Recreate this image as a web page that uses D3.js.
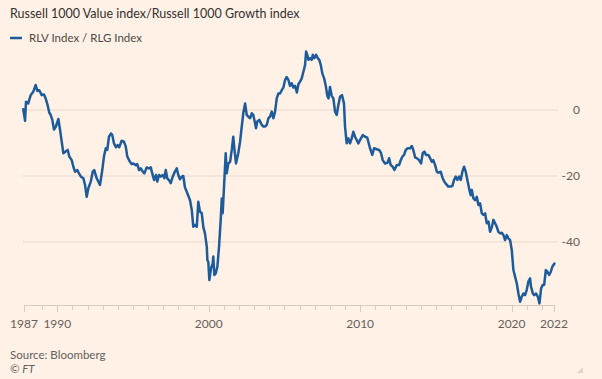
<!DOCTYPE html>
<html><head><meta charset="utf-8">
<script src="https://cdn.jsdelivr.net/npm/d3@7"></script>
<style>
html,body{margin:0;padding:0;background:#fff1e5;}
svg{display:block;font-family:"Lato","Noto Sans",sans-serif;}
</style></head>
<body>
<svg id="chart" width="602" height="379"></svg>
<script>
const title = "Russell 1000 Value index/Russell 1000 Growth index";
const seriesName = "RLV Index / RLG Index";
const source = "Source: Bloomberg";
const credit = "© FT";
const yTicks = [0, -20, -40];
const xMajorTicks = [1990, 2000, 2010, 2020];
const xLabelStart = "1987", xLabelEnd = "2022";
const dates = [1987.75,1987.87,1987.93,1988.08,1988.24,1988.41,1988.57,1988.68,1988.81,1988.97,1989.12,1989.23,1989.34,1989.47,1989.56,1989.67,1989.78,1989.91,1990.07,1990.18,1990.29,1990.40,1990.55,1990.69,1990.79,1990.95,1991.06,1991.17,1991.32,1991.43,1991.56,1991.72,1991.83,1991.94,1992.05,1992.21,1992.34,1992.44,1992.60,1992.82,1992.97,1993.08,1993.20,1993.30,1993.41,1993.55,1993.63,1993.74,1993.88,1993.99,1994.09,1994.25,1994.40,1994.52,1994.62,1994.80,1994.91,1995.02,1995.18,1995.28,1995.40,1995.51,1995.64,1995.75,1995.90,1996.04,1996.17,1996.27,1996.39,1996.52,1996.60,1996.72,1996.83,1996.96,1997.07,1997.16,1997.26,1997.40,1997.49,1997.62,1997.73,1997.89,1997.99,1998.10,1998.22,1998.32,1998.43,1998.55,1998.65,1998.76,1998.88,1998.98,1999.09,1999.21,1999.31,1999.42,1999.54,1999.64,1999.75,1999.87,1999.91,1999.97,2000.04,2000.15,2000.26,2000.30,2000.37,2000.46,2000.57,2000.68,2000.79,2000.86,2000.92,2001.01,2001.12,2001.19,2001.29,2001.41,2001.52,2001.62,2001.69,2001.80,2001.95,2002.07,2002.18,2002.28,2002.40,2002.51,2002.61,2002.73,2002.84,2002.94,2003.06,2003.12,2003.21,2003.34,2003.50,2003.61,2003.72,2003.83,2003.94,2004.05,2004.16,2004.27,2004.38,2004.49,2004.60,2004.71,2004.82,2004.93,2005.04,2005.14,2005.26,2005.37,2005.48,2005.59,2005.70,2005.82,2005.92,2006.03,2006.14,2006.25,2006.36,2006.43,2006.51,2006.58,2006.69,2006.80,2006.87,2006.97,2007.09,2007.20,2007.30,2007.40,2007.50,2007.62,2007.73,2007.83,2007.91,2008.01,2008.12,2008.23,2008.34,2008.45,2008.56,2008.67,2008.80,2008.93,2009.00,2009.11,2009.22,2009.33,2009.44,2009.55,2009.66,2009.77,2009.88,2009.99,2010.17,2010.32,2010.47,2010.65,2010.80,2010.92,2011.10,2011.25,2011.38,2011.49,2011.64,2011.80,2011.91,2012.02,2012.15,2012.26,2012.42,2012.57,2012.68,2012.79,2012.90,2013.01,2013.14,2013.30,2013.41,2013.51,2013.63,2013.74,2013.89,2014.02,2014.13,2014.24,2014.35,2014.50,2014.62,2014.73,2014.83,2014.95,2015.06,2015.16,2015.32,2015.45,2015.56,2015.67,2015.82,2015.98,2016.09,2016.20,2016.31,2016.42,2016.53,2016.64,2016.75,2016.86,2016.97,2017.08,2017.21,2017.30,2017.37,2017.48,2017.59,2017.70,2017.81,2017.92,2018.03,2018.14,2018.25,2018.36,2018.47,2018.58,2018.70,2018.80,2018.91,2019.02,2019.13,2019.24,2019.35,2019.46,2019.57,2019.68,2019.79,2019.90,2020.01,2020.12,2020.23,2020.34,2020.45,2020.56,2020.67,2020.78,2020.89,2021.00,2021.11,2021.22,2021.28,2021.40,2021.50,2021.62,2021.73,2021.84,2021.95,2022.06,2022.15,2022.26,2022.36,2022.48,2022.59,2022.69,2022.83];
const values = [0.2,-3.3,2.5,2,4.5,5.5,7.6,5.8,6,4.5,4.7,3.5,1.8,-0.8,-1.5,-3,-5.9,-5,-2.7,-6,-9.6,-13.1,-12.6,-12.1,-14.1,-15.2,-17.2,-18.7,-18.2,-19.2,-20.2,-20.7,-22.7,-26.3,-23.7,-21.7,-18.7,-18.2,-20.7,-22.7,-18.2,-14.1,-11.6,-12.1,-8.1,-7.1,-7.6,-10.1,-11.3,-10.6,-11.3,-9.3,-9.6,-11.1,-14.1,-15.7,-16.4,-16.2,-16.7,-16.4,-18.2,-17.7,-18.7,-19.2,-17.4,-17.7,-17.4,-19.2,-21.2,-19.7,-21.7,-19.7,-20.2,-19.7,-20.7,-18.2,-20.7,-21.4,-22.2,-20.2,-19.0,-17.7,-19.7,-21,-20.2,-20,-23.5,-24.8,-26,-27.3,-30.3,-35.4,-34.8,-35.4,-27.8,-30.8,-31.3,-35.4,-37.4,-41.4,-45.5,-46,-51.5,-48,-46.5,-44.4,-50,-49.5,-47.5,-41.4,-33.3,-26.8,-31.3,-23.2,-13.1,-19.2,-16.2,-15.7,-12.1,-8.1,-11.6,-16.2,-13.1,-9.6,-5,-1,2,-1.5,-2,-2.5,-1,-1.5,-4,-5.5,-3.5,-3,-4.5,-5,-5,-4.5,-2.5,-2,-0.5,-2.5,-0.5,3.5,5,5,6,6.8,9.1,10,9.1,7.3,8.1,6.8,7.3,5.3,7.8,8.6,9.6,11.6,13.6,17.7,16.7,15.2,15.7,15.2,16.7,15.7,16.7,15.7,15.2,13.6,11.1,9.6,7.3,4.3,3.5,7,4.3,3.5,-0.5,-1.5,1.5,4,4.5,2,-5,-10.1,-8.6,-10.1,-8.6,-6.6,-8.1,-9.1,-10.1,-9.1,-7.6,-8.1,-8.4,-11.6,-13.6,-11.6,-11.9,-12.1,-13.1,-15.2,-16.2,-16,-14.6,-16.7,-17.2,-18.2,-16.7,-16.7,-15.2,-14.1,-13.6,-12.1,-11.6,-11.6,-10.9,-12.1,-14.4,-14.6,-15.2,-16.2,-13.1,-12.6,-13.6,-13.6,-14.6,-15.7,-15.2,-16.7,-18.7,-19,-18.7,-20.7,-21.7,-22.4,-23.2,-23.2,-23,-21.2,-20.2,-21.2,-20.2,-21.2,-18.7,-17.2,-18.7,-21.2,-24.2,-25.8,-24.2,-26.8,-27.3,-26.3,-28.8,-28.3,-31.3,-31.8,-31.3,-34.3,-33.8,-36.9,-35.4,-33.3,-34.3,-35.4,-36.9,-37.4,-37.2,-37.9,-39.4,-37.9,-38.9,-39.4,-42.4,-48.5,-50.5,-52.5,-55.6,-58.1,-56.6,-55.6,-56.1,-54.5,-52,-51,-53.5,-55.6,-56.1,-55.6,-56.6,-58.6,-54,-53,-53,-48.5,-49,-50,-49,-47.5,-46.5];

const data = dates.map((d,i)=>({d, v: values[i]}));
const svg = d3.select("#chart");
const x0 = d3.min(dates), x1 = d3.max(dates);
const x = d3.scaleLinear().domain([1987.8, 2022.8]).range([24, 554]);
const y = d3.scaleLinear().domain([0, -40]).range([110, 242]);
const yBase = 305;

// title & legend
svg.append("text").attr("x", 10).attr("y", 18).attr("font-size", 12.5).attr("fill", "#33302e").text(title);
svg.append("line").attr("x1", 10).attr("x2", 22).attr("y1", 38).attr("y2", 38).attr("stroke", "#1d5b9b").attr("stroke-width", 2.5);
svg.append("text").attr("x", 29).attr("y", 42).attr("font-size", 11.5).attr("fill", "#4d4845").text(seriesName);

// gridlines
svg.append("g").selectAll("line").data(yTicks).join("line")
  .attr("x1", 23).attr("x2", 558).attr("y1", d=>y(d)).attr("y2", d=>y(d))
  .attr("stroke", "#e6d9ce").attr("stroke-width", 1);
svg.append("g").selectAll("text").data(yTicks).join("text")
  .attr("x", 580).attr("y", d=>y(d)).attr("dy", "0.35em").attr("text-anchor", "end")
  .attr("font-size", 12).attr("fill", "#66605c").text(d=>d);

// x axis
const minor = d3.range(1989, 2023).filter(t=>!xMajorTicks.includes(t));
const major = [1987.8, ...xMajorTicks, 2022.8];
const ax = svg.append("g").attr("stroke", "#d6cbc1").attr("stroke-width", 1);
ax.append("line").attr("x1", x(1987.8)).attr("x2", x(2022.8)).attr("y1", yBase+0.5).attr("y2", yBase+0.5);
ax.selectAll(".mn").data(minor).join("line").attr("class","mn")
  .attr("x1", d=>Math.round(x(d))+0.5).attr("x2", d=>Math.round(x(d))+0.5).attr("y1", yBase).attr("y2", yBase+5);
ax.selectAll(".mj").data(major).join("line").attr("class","mj")
  .attr("x1", d=>Math.round(x(d))+0.5).attr("x2", d=>Math.round(x(d))+0.5).attr("y1", yBase).attr("y2", yBase+7);
const xLabels = [[1987.8, xLabelStart], ...xMajorTicks.map(t=>[t, String(t)]), [2022.8, xLabelEnd]];
svg.append("g").selectAll("text").data(xLabels).join("text")
  .attr("x", d=>x(d[0])).attr("y", 324).attr("dy", "0.35em").attr("text-anchor", "middle")
  .attr("font-size", 12).attr("fill", "#66605c").text(d=>d[1]);

// line
svg.append("path").datum(data)
  .attr("fill", "none").attr("stroke", "#1d5b9b").attr("stroke-width", 2.5)
  .attr("stroke-linejoin", "round").attr("stroke-linecap", "round")
  .attr("d", d3.line().x(d=>x(d.d)).y(d=>y(d.v)));

// footer
svg.append("text").attr("x", 10).attr("y", 359).attr("font-size", 11.5).attr("fill", "#66605c").text(source);
svg.append("text").attr("x", 10).attr("y", 373).attr("font-size", 11.5).attr("font-style", "italic").attr("fill", "#66605c").text(credit);
// resize grip
svg.append("path").attr("d", "M577,373 L583,367 L583,373 Z").attr("fill", "#e2d6cc");
</script>
</body></html>
